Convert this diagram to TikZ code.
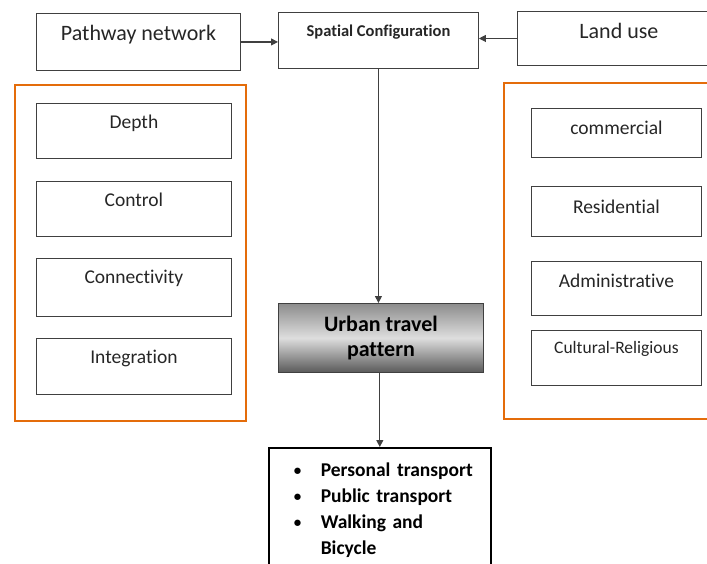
\documentclass[tikz,border=0pt]{standalone}
\usepackage{fontspec}
\setmainfont{Carlito}[Ligatures=NoCommon]
\usetikzlibrary{arrows.meta}
\definecolor{frameorange}{RGB}{228,108,10}
\definecolor{inkgray}{RGB}{64,64,64}
\newcommand{\modeitem}[1]{\makebox[52pt][l]{\hspace{25pt}\raisebox{1pt}{\fontsize{15}{15}\selectfont\textbullet}}#1}

\begin{document}
\begin{tikzpicture}[x=1pt,y=-1pt,
    >={Triangle[length=7pt,width=7pt]},
    box/.style={draw=inkgray, line width=0.9pt, anchor=north west, inner xsep=0pt, inner ysep=0pt, text=black!85},
    topbox/.style={box, font=\fontsize{22}{26}\selectfont},
    leftitem/.style={box, minimum width=195, text height=25, text depth=30, font=\fontsize{19.5}{23}\selectfont},
    rightitem/.style={box, minimum width=170, text height=26, text depth=24, font=\fontsize{19.5}{23}\selectfont},
    group/.style={draw=frameorange, line width=2.6pt},
    link/.style={draw=inkgray, line width=1.1pt}]
    \useasboundingbox (0,0) rectangle (707,563);

    % top row
    \node[topbox, minimum width=204, text height=27, text depth=30] (pathway) at (36,13) {Pathway network};
    \node[box, minimum width=200, text height=24, text depth=32, font=\bfseries\fontsize{16.5}{20}\selectfont] (spatial) at (278,12) {Spatial Configuration};
    \node[topbox, minimum width=203, text height=27, text depth=27] (landuse) at (517,11) {Land use};
    \draw[link,->] (pathway.east) -- (pathway.east -| spatial.west);
    \draw[link,->] (landuse.west) -- (landuse.west -| spatial.east);

    % pathway measures
    \draw[group] (15,85) rectangle (246,421);
    \node[leftitem] (depth) at (36,103) {Depth};
    \node[leftitem] (control) at (36,181) {Control};
    \node[leftitem, text depth=33] (connect) at (36,258) {Connectivity};
    \node[leftitem, text depth=31] (integ) at (36,338) {Integration};

    % land use types
    \draw[group] (504,83) rectangle (720,419);
    \node[rightitem, text depth=23] (commerce) at (531,108) {commercial};
    \node[rightitem, text height=27, text depth=23] (resident) at (531,186) {Residential};
    \node[rightitem, text depth=28] (admin) at (531,261) {Administrative};
    \node[rightitem, text height=23, text depth=32, font=\fontsize{17.5}{21}\selectfont] (cultural) at (531,330) {Cultural-Religious};

    % travel pattern
    \node[box, minimum width=205, minimum height=69, top color=black!45, bottom color=black!65, middle color=black!13,
          align=center, text=black, font=\bfseries\fontsize{22}{25}\selectfont] (urban) at (278,303) {Urban travel\\pattern};
    \draw[link,->] (spatial.south) -- (spatial.south |- urban.north);

    \node[box, text width=222, inner ysep=15pt, align=left, line width=1.6pt, draw=black, text=black,
          font=\bfseries\fontsize{19.5}{26}\selectfont] (modes) at (268,447)
          {\modeitem{Personal transport}\\ \modeitem{Public transport}\\ \modeitem{Walking and}\\ \hspace*{52pt}Bicycle};
    \draw[link,->] (urban.south -| modes.north) -- (modes.north);
\end{tikzpicture}
\end{document}
